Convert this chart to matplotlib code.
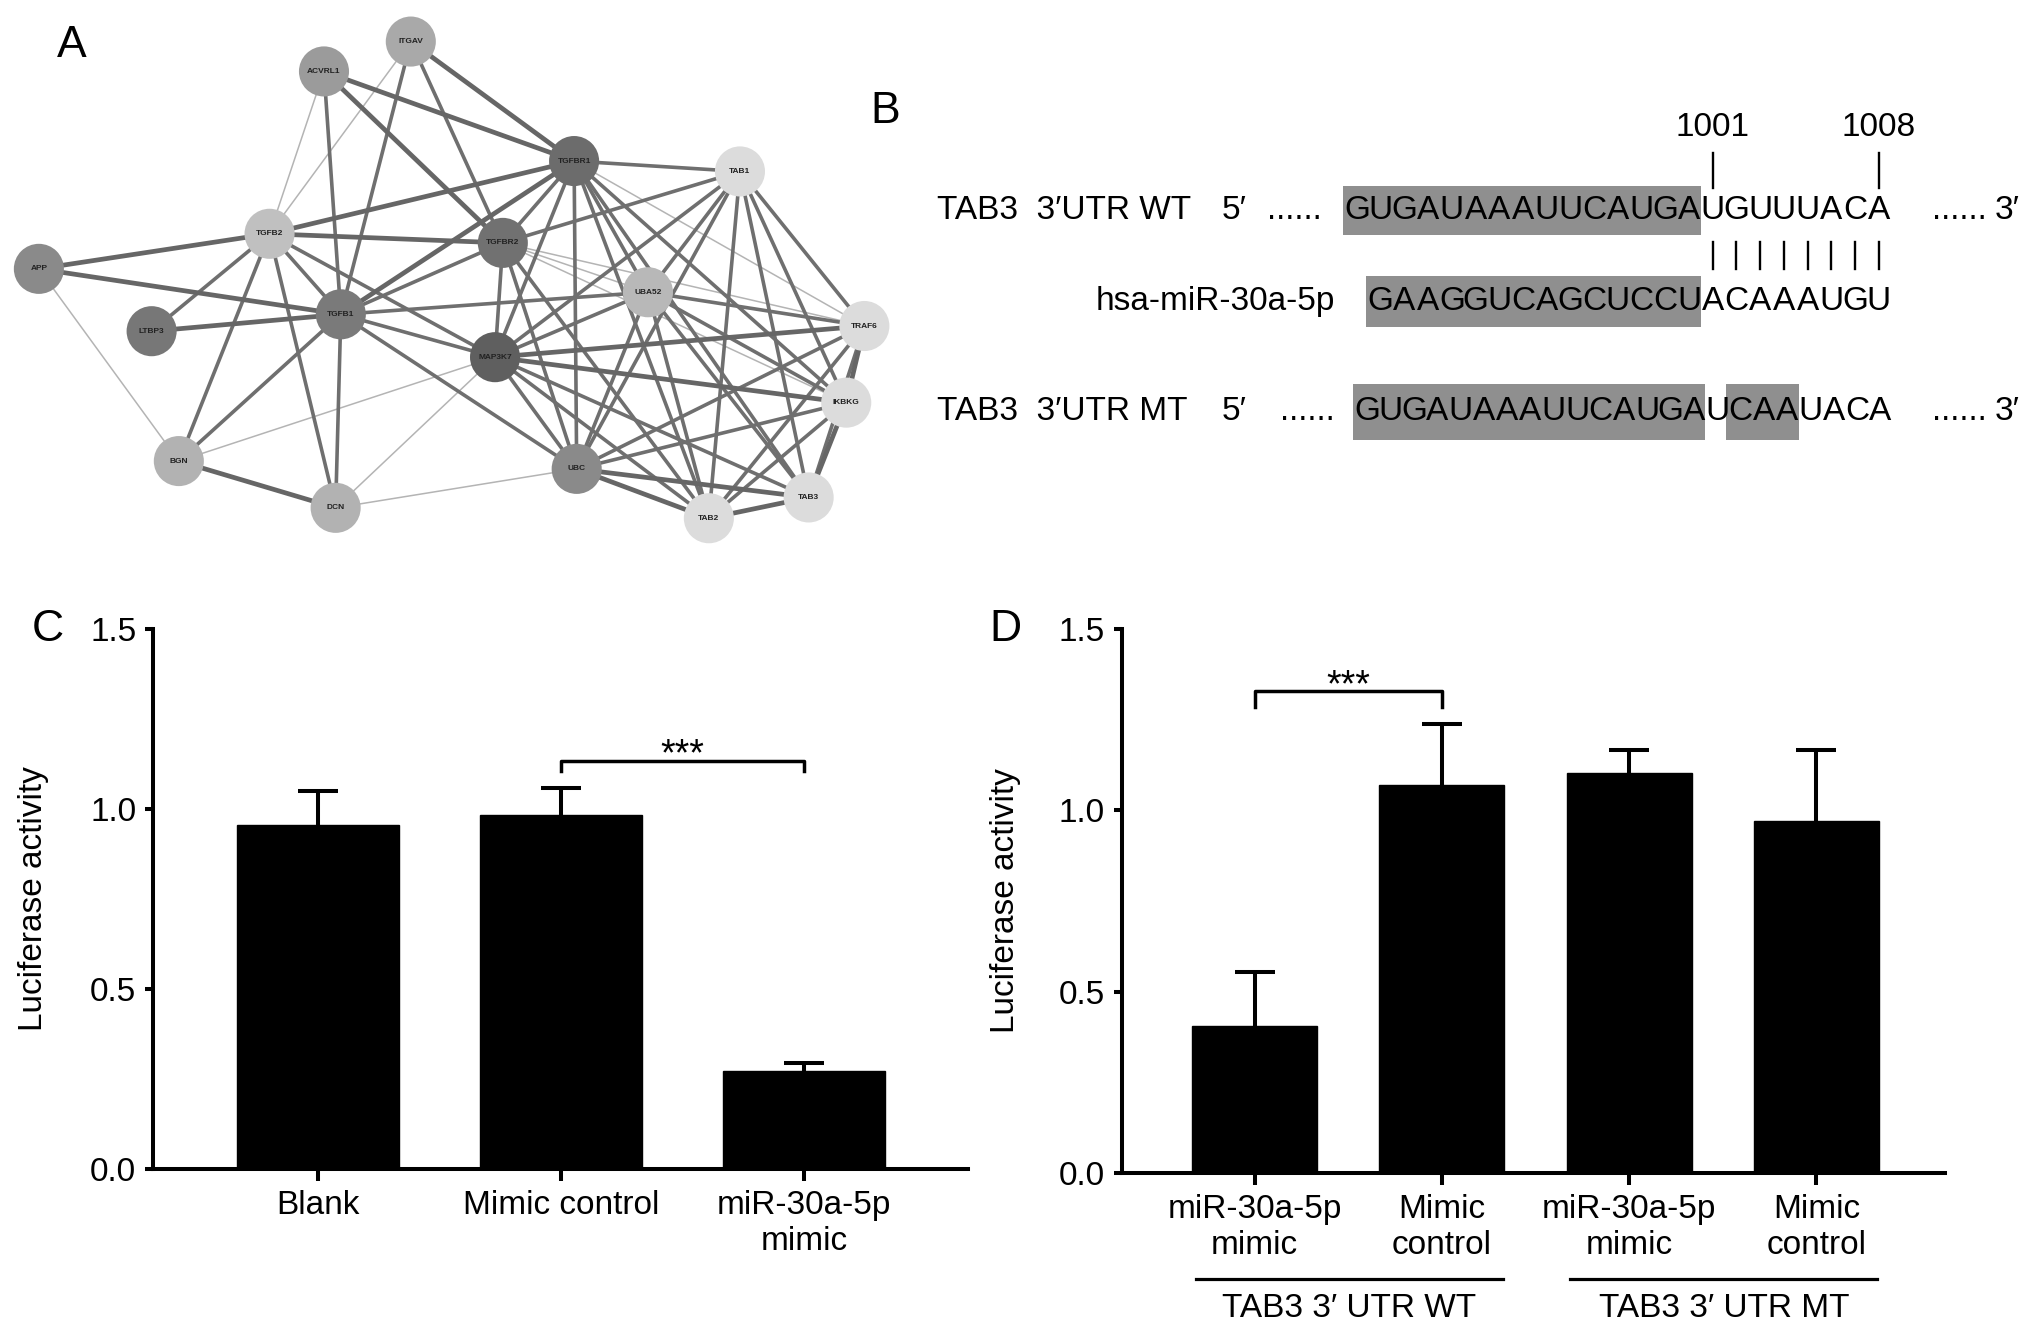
import matplotlib
matplotlib.use("Agg")
import matplotlib.pyplot as plt
from matplotlib.patches import Rectangle

plt.rcParams['font.family'] = ['Liberation Sans', 'DejaVu Sans']

# ---------------- data ----------------
# Panel A: protein interaction network (layout positions and grey level per node)
node_names = ["ITGAV", "ACVRL1", "TGFBR1", "TAB1", "TGFB2", "TGFBR2", "APP", "UBA52",
              "TRAF6", "LTBP3", "TGFB1", "MAP3K7", "IKBKG", "BGN", "UBC", "DCN", "TAB3", "TAB2"]
node_x = [317, 250, 443, 571, 208, 388, 30, 500, 667, 117, 263, 382, 653, 138, 445, 259, 624, 547]
node_y = [32, 55, 124, 132, 180, 187, 207, 225, 251, 255, 242, 275, 310, 355, 361, 391, 383, 399]
node_grey = ["#a9a9a9", "#9b9b9b", "#6c6c6c", "#dcdcdc", "#c0c0c0", "#717171", "#8a8a8a", "#b8b8b8",
             "#dcdcdc", "#777777", "#7a7a7a", "#5f5f5f", "#dcdcdc", "#b2b2b2", "#8a8a8a", "#b2b2b2",
             "#dcdcdc", "#dcdcdc"]
edge_src = ["ITGAV", "ITGAV", "ITGAV", "ITGAV",
            "ACVRL1", "ACVRL1", "ACVRL1", "ACVRL1",
            "TGFBR1", "TGFBR1", "TGFBR1", "TGFBR1", "TGFBR1", "TGFBR1", "TGFBR1", "TGFBR1", "TGFBR1", "TGFBR1", "TGFBR1",
            "TGFB2", "TGFB2", "TGFB2", "TGFB2", "TGFB2", "TGFB2", "TGFB2",
            "TGFBR2", "TGFBR2", "TGFBR2", "TGFBR2", "TGFBR2", "TGFBR2", "TGFBR2", "TGFBR2",
            "APP", "APP", "LTBP3",
            "TGFB1", "TGFB1", "TGFB1", "TGFB1", "TGFB1",
            "MAP3K7", "MAP3K7", "MAP3K7", "MAP3K7", "MAP3K7", "MAP3K7", "MAP3K7", "MAP3K7", "MAP3K7",
            "BGN", "DCN",
            "UBA52", "UBA52", "UBA52", "UBA52", "UBA52", "UBA52",
            "UBC", "UBC", "UBC", "UBC", "UBC",
            "TAB1", "TAB1", "TAB1", "TAB1",
            "TRAF6", "TRAF6", "TRAF6",
            "IKBKG", "IKBKG", "TAB2"]
edge_dst = ["TGFBR1", "TGFBR2", "TGFB1", "TGFB2",
            "TGFBR1", "TGFBR2", "TGFB1", "TGFB2",
            "TAB1", "TGFB2", "TGFB1", "TGFBR2", "MAP3K7", "UBA52", "UBC", "TAB2", "TAB3", "IKBKG", "TRAF6",
            "APP", "TGFBR2", "TGFB1", "LTBP3", "BGN", "DCN", "MAP3K7",
            "TGFB1", "MAP3K7", "UBC", "TAB1", "UBA52", "TRAF6", "TAB2", "IKBKG",
            "TGFB1", "BGN", "TGFB1",
            "UBA52", "MAP3K7", "BGN", "DCN", "UBC",
            "BGN", "DCN", "UBC", "TAB1", "TAB2", "TAB3", "TRAF6", "IKBKG", "UBA52",
            "DCN", "UBC",
            "TAB1", "TRAF6", "IKBKG", "TAB2", "TAB3", "UBC",
            "TAB1", "TAB2", "TAB3", "TRAF6", "IKBKG",
            "TAB2", "TAB3", "TRAF6", "IKBKG",
            "TAB2", "TAB3", "IKBKG",
            "TAB2", "TAB3", "TAB3"]
edge_score = [3, 2, 2, 1,
              3, 3, 2, 1,
              2, 3, 3, 2, 2, 2, 2, 2, 2, 2, 1,
              3, 3, 2, 2, 2, 2, 2,
              2, 2, 2, 2, 1, 1, 2, 1,
              3, 1, 3,
              2, 2, 2, 2, 2,
              1, 1, 2, 2, 2, 2, 3, 3, 2,
              3, 1,
              2, 2, 2, 2, 2, 2,
              2, 3, 3, 2, 2,
              2, 2, 2, 2,
              2, 2, 3,
              2, 3, 3]

# Panel B: sequences
wt_label = "TAB3  3\u2032UTR WT"
mt_label = "TAB3  3\u2032UTR MT"
mir_label = "hsa-miR-30a-5p"
wt_seq = "GUGAUAAAUUCAUGAUGUUUACA"
mir_seq = "GAAGGUCAGCUCCUACAAAUGU"
mt_seq = "GUGAUAAAUUCAUGAUCAAUACA"
site_start, site_end = "1001", "1008"

# Panel C
c_groups = ["Blank", "Mimic control", "miR-30a-5p\nmimic"]
c_mean = [0.957, 0.983, 0.273]
c_sem = [0.094, 0.076, 0.021]

# Panel D
d_groups = ["miR-30a-5p\nmimic", "Mimic\ncontrol", "miR-30a-5p\nmimic", "Mimic\ncontrol"]
d_mean = [0.406, 1.070, 1.102, 0.970]
d_sem = [0.149, 0.168, 0.064, 0.196]
d_sets = ["TAB3 3\u2032 UTR WT", "TAB3 3\u2032 UTR MT"]

yticks = [0.0, 0.5, 1.0, 1.5]
ylab = "Luciferase activity"

# ---------------- figure ----------------
W, H = 1568.0, 1024.0
fig = plt.figure(figsize=(20.32, 13.30), dpi=100)
fig.patch.set_facecolor("white")

ov = fig.add_axes([0, 0, 1, 1])
ov.set_xlim(0, W)
ov.set_ylim(H, 0)
ov.axis("off")

# ---- Panel A network ----
pos = {n: (x, y) for n, x, y in zip(node_names, node_x, node_y)}
style = {3: ("#666666", 3.4), 2: ("#6f6f6f", 2.6), 1: ("#b4b4b4", 1.1)}
for s, d, w in sorted(zip(edge_src, edge_dst, edge_score), key=lambda t: t[2]):
    c, lw = style[w]
    ov.plot([pos[s][0], pos[d][0]], [pos[s][1], pos[d][1]], color=c, lw=lw,
            solid_capstyle="round", zorder=1)
ov.scatter(node_x, node_y, s=1300, c=node_grey, edgecolors="none", zorder=3)
for n, x, y in zip(node_names, node_x, node_y):
    ov.text(x, y, n, ha="center", va="center", fontsize=6, color="#222222",
            fontweight="bold", zorder=4)

# ---- Panel letters ----
for letter, x, y in [("A", 55, 35), ("B", 683, 86), ("C", 37, 485), ("D", 776, 485)]:
    ov.text(x, y, letter, ha="center", va="center", fontsize=32)

# ---- Panel B alignment ----
fs_b = 24
box_c = "#8f8f8f"

def draw_seq(x0, pitch, yc, seq, shaded, box_h=38):
    for a, b in shaded:
        ov.add_patch(Rectangle((x0 + a * pitch - 2, yc - box_h / 2), (b - a) * pitch + 2, box_h,
                               facecolor=box_c, edgecolor="none", zorder=1))
    for i, ch in enumerate(seq):
        ov.text(x0 + pitch * (i + 0.5), yc, ch, ha="center", va="center",
                fontsize=fs_b, zorder=2)

pitch = 18.3
wt_x0 = 1038
mir_x0 = wt_x0 + pitch
mt_x0 = 1046
mt_pitch = 18.0
y_wt, y_mir, y_mt = 162, 232, 317

ov.text(723, y_wt, wt_label, ha="left", va="center", fontsize=fs_b)
ov.text(952, y_wt, "5\u2032", ha="center", va="center", fontsize=fs_b)
ov.text(999, y_wt, "......", ha="center", va="center", fontsize=fs_b)
draw_seq(wt_x0, pitch, y_wt, wt_seq, [(0, 15)])
ov.text(1512, y_wt, "......", ha="center", va="center", fontsize=fs_b)
ov.text(1549, y_wt, "3\u2032", ha="center", va="center", fontsize=fs_b)

ov.text(1030, y_mir, mir_label, ha="right", va="center", fontsize=fs_b)
draw_seq(mir_x0, pitch, y_mir, mir_seq, [(0, 14)], box_h=39)

ov.text(723, y_mt, mt_label, ha="left", va="center", fontsize=fs_b)
ov.text(952, y_mt, "5\u2032", ha="center", va="center", fontsize=fs_b)
ov.text(1009, y_mt, "......", ha="center", va="center", fontsize=fs_b)
draw_seq(mt_x0, mt_pitch, y_mt, mt_seq, [(0, 15), (16, 19)], box_h=43)
ov.text(1512, y_mt, "......", ha="center", va="center", fontsize=fs_b)
ov.text(1549, y_mt, "3\u2032", ha="center", va="center", fontsize=fs_b)

# pairing lines and site markers
for i in range(15, 23):
    xc = wt_x0 + pitch * (i + 0.5)
    ov.plot([xc, xc], [186, 207], color="black", lw=1.7)
for i, lab in [(15, site_start), (22, site_end)]:
    xc = wt_x0 + pitch * (i + 0.5)
    ov.plot([xc, xc], [118, 145], color="black", lw=1.7)
    ov.text(xc, 98, lab, ha="center", va="center", fontsize=fs_b)

# ---- bar chart helper ----
FS = 24

def bar_panel(rect, groups, mean, sem, xlim, width):
    ax = fig.add_axes(rect)
    xs = list(range(len(groups)))
    tops = [m + e for m, e in zip(mean, sem)]
    ax.bar(xs, mean, width=width, color="black", edgecolor="black", zorder=2)
    ax.vlines(xs, mean, tops, color="black", lw=2.9, zorder=1)
    ax.plot(xs, tops, ls="none", marker="_", markersize=29, markeredgewidth=2.9,
            color="black", zorder=1)
    ax.set_xlim(*xlim)
    ax.set_ylim(0, 1.5)
    ax.set_yticks(yticks)
    ax.set_yticklabels([f"{v:.1f}" for v in yticks])
    ax.set_xticks(xs)
    ax.set_xticklabels(groups, fontsize=FS)
    for sp in ["top", "right"]:
        ax.spines[sp].set_visible(False)
    for sp in ["left", "bottom"]:
        ax.spines[sp].set_linewidth(2.9)
    ax.tick_params(axis="y", labelsize=FS, width=2.9, length=6, pad=6)
    ax.tick_params(axis="x", labelsize=FS, width=2.9, length=8.5, pad=7)
    ax.set_ylabel(ylab, fontsize=FS)
    ax.patch.set_alpha(0)
    return ax

def bracket(ax, x1, x2, y, drop):
    ax.plot([x1, x1, x2, x2], [y - drop, y, y, y - drop], color="black", lw=2.5,
            clip_on=False)
    ax.text((x1 + x2) / 2, y - 0.012, "***", ha="center", va="baseline", fontsize=27,
            clip_on=False)

# ---- Panel C ----
axc = bar_panel([118 / W, 1 - 900 / H, 629 / W, 415.6 / H], c_groups, c_mean, c_sem,
                (-0.68, 2.675), 0.667)
axc.yaxis.set_label_coords(-0.128, 0.5)
bracket(axc, 1, 2, 1.133, 0.027)

# ---- Panel D ----
axd = bar_panel([865.6 / W, 1 - 903 / H, 634.9 / W, 418.6 / H], d_groups, d_mean, d_sem,
                (-0.71, 3.684), 0.668)
axd.yaxis.set_label_coords(-0.122, 0.5)
bracket(axd, 0, 1, 1.328, 0.042)
for (a, b), lab in zip([(0, 1), (2, 3)], d_sets):
    axd.plot([a - 0.316, b + 0.325], [-0.294, -0.294], color="black", lw=2.3, clip_on=False)
    axd.text((a + b) / 2 + 0.005, -0.375, lab, ha="center", va="center", fontsize=FS,
             clip_on=False)

fig.savefig("out.png", dpi=100, facecolor="white")
